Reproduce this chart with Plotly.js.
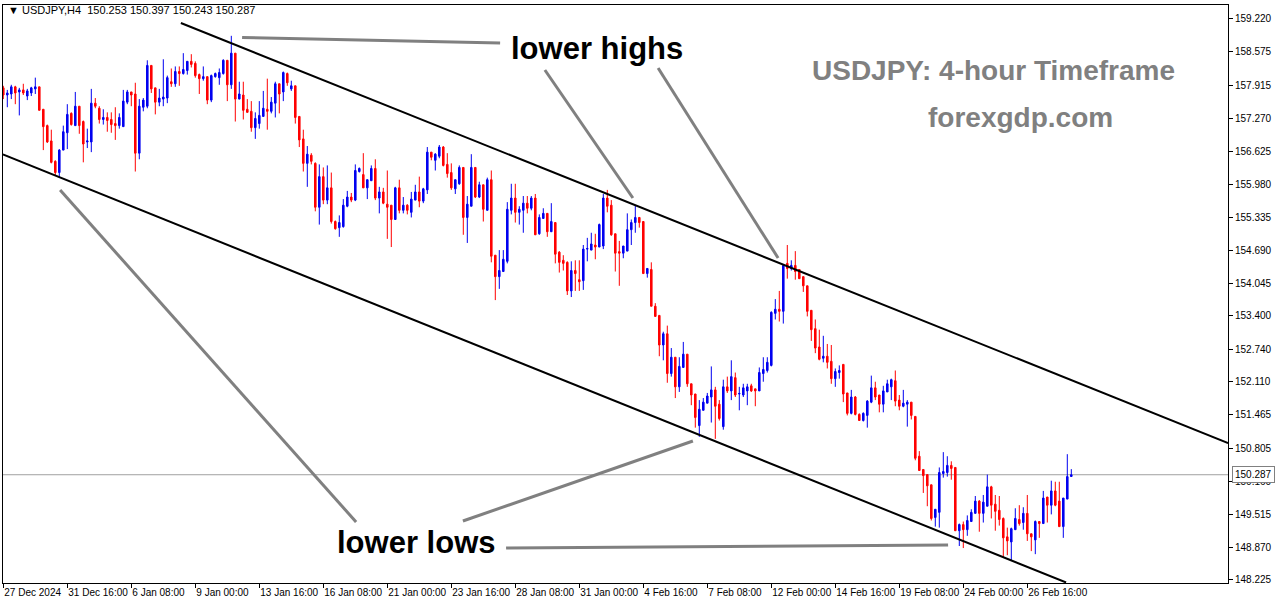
<!DOCTYPE html>
<html>
<head>
<meta charset="utf-8">
<script src="https://cdn.plot.ly/plotly-3.0.1.min.js"></script>
<style>html,body{margin:0;padding:0;background:#fff;}#chart{width:1276px;height:604px;}</style>
</head>
<body>
<div id="chart"></div>
<script>
// H4 candles, index 0 = 27 Dec 2024 00:00
const openP = [
157.87,157.73,157.75,157.89,157.79,157.83,157.71,157.77,157.85,157.89,
157.45,157.13,156.83,156.43,156.21,156.65,156.99,157.37,157.13,157.51,
157.21,156.81,156.81,157.57,157.47,157.25,157.29,157.25,157.17,157.13,
157.11,157.59,157.79,157.75,156.59,157.49,157.51,158.31,157.87,157.59,
157.65,157.67,157.99,157.95,158.19,158.15,158.21,158.39,158.35,158.13,
158.05,158.09,157.63,158.09,158.07,158.15,158.41,157.93,158.55,157.65,
157.73,157.45,157.41,157.09,157.17,157.31,157.45,157.41,157.57,157.95,
157.79,158.15,157.85,157.91,157.31,156.87,156.39,156.55,156.39,155.53,
156.13,155.67,155.91,155.25,155.13,155.15,155.55,155.73,155.67,156.23,
156.17,155.91,156.05,156.29,155.71,155.83,155.59,155.57,155.29,155.91,
155.47,155.57,155.43,155.67,155.83,155.65,155.87,156.61,156.45,156.53,
156.71,156.37,156.21,155.89,155.99,156.31,155.33,155.55,156.31,155.73,
155.97,155.47,156.07,154.59,154.17,154.27,154.47,155.47,155.71,155.43,
155.47,155.61,155.51,155.71,155.01,155.31,155.41,155.05,155.23,154.65,
154.49,154.45,153.89,154.29,154.11,154.09,154.71,154.69,154.79,154.75,
154.77,155.71,155.57,155.01,154.66,154.63,154.67,155.09,155.23,155.33,
155.25,154.23,154.31,153.59,153.41,152.83,153.05,152.27,152.59,152.01,
152.39,152.65,152.07,151.87,151.25,151.55,151.69,151.81,151.95,151.67,
151.23,152.01,151.93,152.19,151.87,151.85,151.93,152.03,151.97,151.93,
152.27,152.33,152.43,153.45,153.53,153.49,154.43,154.33,154.39,154.31,
154.17,153.99,153.51,153.15,152.79,152.57,152.61,152.51,152.17,152.29,
152.45,151.89,151.49,151.81,151.47,151.35,151.45,151.71,151.99,151.85,
151.67,151.91,152.01,152.13,151.75,151.63,151.67,151.71,151.43,150.65,
150.39,150.29,150.09,149.45,149.55,150.31,150.33,150.47,150.43,149.19,
149.31,149.21,149.37,149.53,149.77,149.53,149.67,150.05,149.71,149.59,
149.43,149.07,148.97,149.21,149.41,149.35,149.53,149.13,149.01,149.37,
149.33,149.85,149.69,149.97,149.77,149.27,149.81,150.253];
const highP = [
157.91,157.83,157.93,157.91,157.87,157.95,157.85,157.89,158.07,157.89,
157.45,157.15,157.05,156.45,156.67,157.13,157.55,157.39,157.79,157.51,
157.23,157.07,157.85,157.67,157.51,157.45,157.39,157.39,157.49,157.37,
157.83,157.83,157.79,157.97,157.65,157.67,158.41,158.31,157.87,157.85,
158.43,158.11,158.25,158.29,158.29,158.55,158.39,158.53,158.39,158.15,
158.29,158.09,158.13,158.17,158.25,158.43,158.41,158.89,158.55,157.99,
157.99,157.65,157.61,157.39,157.61,157.81,158.05,157.69,157.99,157.95,
158.19,158.17,158.01,157.91,157.31,157.05,156.73,156.59,156.41,156.37,
156.31,156.35,156.21,155.27,155.37,155.69,155.85,155.81,156.37,156.31,
156.59,156.07,156.35,156.47,155.93,155.91,156.25,155.57,155.93,156.07,
155.73,155.59,155.83,155.97,156.13,155.91,156.71,156.61,156.59,156.75,
156.73,156.59,156.39,156.07,156.35,156.31,155.75,156.57,156.31,156.03,
155.97,156.11,156.25,154.59,154.69,154.69,155.63,155.99,155.99,155.55,
155.75,155.75,155.75,155.79,155.39,155.51,155.41,155.61,155.23,154.67,
154.59,154.47,154.47,154.49,154.49,154.79,154.93,155.03,155.01,155.21,
155.79,155.87,155.67,155.01,154.87,154.77,155.41,155.29,155.57,155.33,
155.25,154.33,154.45,153.65,153.41,153.09,153.21,152.77,152.59,152.59,
152.89,152.65,152.07,151.87,151.75,151.79,151.89,152.41,152.01,151.75,
152.15,152.21,152.53,152.29,152.01,152.07,152.07,152.07,151.97,152.39,
152.59,152.59,153.49,153.73,153.89,154.39,154.79,154.49,154.67,154.31,
154.17,153.99,153.51,153.33,153.13,153.01,152.85,152.83,152.37,152.43,
152.45,151.89,151.95,151.83,151.49,151.51,151.75,152.23,152.11,151.85,
152.03,152.15,152.17,152.33,151.85,151.95,151.75,151.71,151.43,150.75,
150.39,150.29,150.09,149.61,150.43,150.73,150.65,150.55,150.43,149.33,
149.37,149.49,149.61,149.87,149.79,149.89,150.29,150.07,149.89,149.87,
149.45,149.25,149.25,149.63,149.69,149.65,149.89,149.13,149.39,149.37,
149.97,149.85,150.17,150.15,150.15,149.83,150.69,150.397];
const lowP = [
157.65,157.49,157.65,157.55,157.33,157.73,157.63,157.71,157.75,157.43,
156.65,156.79,156.39,156.15,156.11,156.65,156.67,157.13,157.13,156.97,
156.41,156.69,156.61,157.47,157.17,157.15,157.01,156.99,156.85,157.07,
157.11,157.55,157.51,156.23,156.47,157.41,157.47,157.77,157.35,157.51,
157.51,157.57,157.89,157.89,157.91,158.13,158.13,158.27,158.07,157.75,
158.01,157.55,157.59,158.07,157.93,158.13,157.61,157.85,157.21,157.65,
157.25,157.39,157.01,156.87,157.07,157.31,157.05,157.37,157.29,157.37,
157.61,157.91,157.81,157.17,156.71,156.23,155.93,156.37,155.45,155.19,
155.59,155.59,155.21,155.09,154.95,155.13,155.53,155.63,155.65,156.21,
155.91,155.69,156.05,155.67,155.41,155.59,154.91,154.75,155.29,155.41,
155.41,155.39,155.33,155.67,155.53,155.61,155.79,156.45,156.25,156.49,
156.33,156.11,155.87,155.79,155.97,154.99,154.83,155.55,155.71,155.71,
155.25,155.47,154.45,153.71,153.93,154.27,154.43,155.39,155.23,155.19,
155.03,155.41,155.47,154.99,154.99,155.31,154.95,155.05,154.43,154.25,
154.29,153.81,153.77,153.89,153.89,153.91,154.47,154.69,154.51,154.75,
154.71,155.43,154.97,154.27,153.99,154.53,154.67,154.79,155.03,155.13,
154.23,154.15,153.59,153.39,152.61,152.53,152.09,152.21,151.79,151.91,
152.39,152.01,151.65,151.21,151.03,151.55,151.69,151.31,150.99,151.35,
151.17,151.89,151.75,151.81,151.55,151.81,151.65,151.91,151.63,151.93,
152.11,152.29,152.41,153.33,153.29,153.25,154.13,154.29,154.11,154.13,
153.87,153.39,152.91,152.67,152.53,152.49,152.37,152.07,152.01,152.17,
151.71,151.45,151.47,151.45,151.35,151.33,151.21,151.69,151.75,151.51,
151.51,151.91,151.75,151.63,151.55,151.61,151.23,151.37,150.57,150.37,
149.93,149.67,149.39,149.27,149.25,150.23,150.25,150.19,149.19,148.89,
148.85,149.09,149.37,149.53,149.17,149.35,149.67,149.43,149.19,149.29,
148.67,148.71,148.61,149.21,149.29,149.21,148.99,148.79,148.73,149.05,
149.33,149.35,149.51,149.67,149.27,149.05,149.81,150.243];
const closeP = [
157.73,157.77,157.89,157.77,157.83,157.77,157.81,157.87,157.89,157.43,
157.11,156.81,156.41,156.21,156.65,157.01,157.35,157.15,157.51,157.13,
156.77,156.83,157.57,157.51,157.25,157.29,157.23,157.15,157.13,157.29,
157.61,157.79,157.73,156.59,157.51,157.63,158.31,157.85,157.59,157.67,
157.69,158.07,157.95,158.19,158.15,158.23,158.39,158.33,158.11,158.05,
158.09,157.63,158.11,158.15,158.17,158.41,157.93,158.55,157.65,157.75,
157.43,157.39,157.09,157.27,157.33,157.47,157.41,157.59,157.95,157.75,
158.17,157.97,157.91,157.29,156.85,156.39,156.57,156.43,155.53,156.13,
155.67,155.91,155.25,155.11,155.23,155.57,155.73,155.67,156.25,156.29,
155.91,156.07,156.29,155.71,155.83,155.61,155.53,155.29,155.91,155.47,
155.57,155.47,155.69,155.83,155.65,155.89,156.61,156.51,156.57,156.71,
156.35,156.19,155.91,156.07,156.31,155.33,155.59,156.31,155.73,155.97,
155.49,156.07,154.57,154.17,154.29,154.51,155.49,155.71,155.43,155.49,
155.61,155.51,155.71,154.99,155.33,155.41,155.05,155.25,154.61,154.45,
154.43,153.89,154.29,154.23,154.07,154.71,154.72,154.81,154.75,155.19,
155.71,155.55,154.99,154.63,154.63,154.77,155.09,155.23,155.33,155.23,
154.23,154.33,153.59,153.39,152.83,153.05,152.27,152.59,152.01,152.41,
152.65,152.07,151.85,151.41,151.57,151.71,151.83,151.95,151.63,151.39,
152.01,151.93,152.21,151.85,151.88,151.99,152.01,151.93,151.93,152.29,
152.35,152.49,153.47,153.53,153.49,154.39,154.33,154.39,154.27,154.13,
153.99,153.49,153.13,152.77,152.55,152.61,152.49,152.17,152.31,152.33,
151.87,151.49,151.81,151.47,151.35,151.49,151.73,151.99,151.81,151.67,
151.93,152.07,152.15,151.73,151.63,151.69,151.71,151.45,150.61,150.37,
150.27,150.07,149.43,149.61,150.33,150.35,150.47,150.41,149.19,149.31,
149.21,149.39,149.55,149.77,149.53,149.75,150.05,149.69,149.57,149.41,
149.05,148.99,149.23,149.43,149.33,149.53,149.13,149.07,149.37,149.33,
149.83,149.69,149.97,149.69,149.27,149.83,150.25,150.287];

const xTickIdx = [0,16,32,48,64,80,96,112,128,144,160,176,192,208,224,240,256];
const xTickText = ["27 Dec 2024","31 Dec 16:00","6 Jan 08:00","9 Jan 00:00","13 Jan 16:00","16 Jan 08:00","21 Jan 00:00","23 Jan 16:00","28 Jan 08:00","31 Jan 00:00","4 Feb 16:00","7 Feb 08:00","12 Feb 00:00","14 Feb 16:00","19 Feb 08:00","24 Feb 00:00","26 Feb 16:00"];
const yTickVals = [159.220,158.575,157.915,157.270,156.625,155.980,155.335,154.690,154.045,153.400,152.740,152.110,151.465,150.805,150.160,149.515,148.870,148.225];

const lastPrice = 150.287;
// channel lines [x0,y0,x1,y1] in (candle index, price)
const upperChannel = [44.4, 159.141, 306.2, 150.909];
const lowerChannel = [-0.1, 156.564, 265.7, 148.175];
// grey pointer lines
const pointers = [
  [59.7, 158.857, 124.2, 158.749],
  [135.4, 158.220, 157.4, 155.711],
  [163.7, 158.259, 193.7, 154.535],
  [14.2, 155.868, 88.2, 149.361],
  [114.9, 149.380, 172.4, 150.948],
  [125.7, 148.851, 236.2, 148.910]
];

const idx = closeP.map((_, i) => i);

const trace = {
  type: 'candlestick',
  x: idx, open: openP, high: highP, low: lowP, close: closeP,
  increasing: {line: {color: '#0000f0', width: 1}, fillcolor: '#0000f0'},
  decreasing: {line: {color: '#ff0000', width: 1}, fillcolor: '#ff0000'},
  whiskerwidth: 0,
  hoverinfo: 'skip',
  showlegend: false
};

const shapes = [];
shapes.push({type:'line', xref:'paper', yref:'y', x0:0, x1:1, y0:lastPrice, y1:lastPrice, line:{color:'#a0a0a0', width:1}, layer:'below'});
[upperChannel, lowerChannel].forEach(s => shapes.push({type:'line', xref:'x', yref:'y', x0:s[0], y0:s[1], x1:s[2], y1:s[3], line:{color:'#000000', width:2}}));
pointers.forEach(s => shapes.push({type:'line', xref:'x', yref:'y', x0:s[0], y0:s[1], x1:s[2], y1:s[3], line:{color:'#808080', width:3}}));

const fam = 'Liberation Sans, Arial, sans-serif';
const annotations = [
  {text:'<b>lower highs</b>', xref:'paper', yref:'paper', x:0.4849, y:0.9256, showarrow:false, font:{family:fam, size:31, color:'#000'}, xanchor:'center', yanchor:'middle'},
  {text:'<b>lower lows</b>', xref:'paper', yref:'paper', x:0.3371, y:0.0709, showarrow:false, font:{family:fam, size:31, color:'#000'}, xanchor:'center', yanchor:'middle'},
  {text:'<b>USDJPY: 4-hour Timeframe</b>', xref:'paper', yref:'paper', x:0.8082, y:0.8875, showarrow:false, font:{family:fam, size:28, color:'#808080'}, xanchor:'center', yanchor:'middle'},
  {text:'<b>forexgdp.com</b>', xref:'paper', yref:'paper', x:0.831, y:0.8062, showarrow:false, font:{family:fam, size:28, color:'#808080'}, xanchor:'center', yanchor:'middle'},
  {text:'▼ USDJPY,H4  150.253 150.397 150.243 150.287', xref:'paper', yref:'paper', x:0.0025, y:0.9913, showarrow:false, font:{family:fam, size:11, color:'#000'}, xanchor:'left', yanchor:'middle'},
  {text:lastPrice.toFixed(3), xref:'paper', yref:'y', x:1.003, y:lastPrice, showarrow:false, font:{family:fam, size:10, color:'#000'}, xanchor:'left', yanchor:'middle', bgcolor:'#ffffff', bordercolor:'#808080', borderwidth:1, borderpad:2}
];

const layout = {
  width: 1276, height: 604,
  margin: {l: 3, r: 48, t: 5, b: 21, pad: 0},
  paper_bgcolor: '#ffffff', plot_bgcolor: '#ffffff',
  showlegend: false,
  boxgap: 0.45,
  xaxis: {
    type: 'linear', range: [-0.075, 306.175], fixedrange: true,
    rangeslider: {visible: false},
    tickmode: 'array', tickvals: xTickIdx, ticktext: xTickText,
    tickangle: 0,
    ticks: 'outside', ticklen: 4, tickcolor: '#000', tickwidth: 1,
    ticklabelposition: 'outside right',
    showline: true, linecolor: '#000', linewidth: 1, mirror: true,
    showgrid: false, zeroline: false,
    tickfont: {family: fam, size: 10, color: '#000'}
  },
  yaxis: {
    side: 'right', range: [148.165, 159.494], fixedrange: true,
    tickmode: 'array', tickvals: yTickVals, ticktext: yTickVals.map(v => v.toFixed(3)),
    ticks: 'outside', ticklen: 4, tickcolor: '#000', tickwidth: 1,
    showline: true, linecolor: '#000', linewidth: 1, mirror: true,
    showgrid: false, zeroline: false,
    tickfont: {family: fam, size: 10, color: '#000'}
  },
  shapes: shapes,
  annotations: annotations
};

Plotly.newPlot('chart', [trace], layout, {staticPlot: true, displayModeBar: false});
</script>
</body>
</html>
